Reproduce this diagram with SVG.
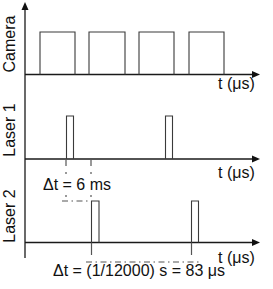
<svg xmlns="http://www.w3.org/2000/svg" width="273" height="289" viewBox="0 0 273 289">
<style>
.ax{stroke:#1a1a1a;stroke-width:1.3;fill:none}
.pl{stroke:#3a3a3a;stroke-width:1.1;fill:none}
.dd{stroke:#555;stroke-width:1.2;fill:none;stroke-dasharray:6 3.5 1.5 3.5}
.dt{stroke:#555;stroke-width:1.2;fill:none}
.ah{fill:#111}
text{font-family:"Liberation Sans",Arial,sans-serif;font-size:16px;fill:#111}
</style>
<rect width="273" height="289" fill="#fff"/>
<g id="axes">
<line class="ax" x1="25" y1="8" x2="25" y2="258"/>
<polygon class="ah" points="25,2 21.5,10 28.5,10"/>
<line class="ax" x1="25" y1="74.5" x2="253" y2="74.5"/>
<polygon class="ah" points="260,74.5 252,71 252,78"/>
<line class="ax" x1="25" y1="159" x2="253" y2="159"/>
<polygon class="ah" points="260,159 252,155.5 252,162.5"/>
<line class="ax" x1="25" y1="242.5" x2="253" y2="242.5"/>
<polygon class="ah" points="260,242.5 252,239 252,246"/>
</g>
<g id="camera">
<text transform="translate(15,44) rotate(-90)" text-anchor="middle">Camera</text>
<polyline class="pl" points="40,74.5 40,32 75,32 75,74.5"/>
<polyline class="pl" points="89,74.5 89,32 125,32 125,74.5"/>
<polyline class="pl" points="139,74.5 139,32 174,32 174,74.5"/>
<polyline class="pl" points="189,74.5 189,32 224,32 224,74.5"/>
<text x="218" y="89">t (μs)</text>
</g>
<g id="laser1">
<text transform="translate(15,130) rotate(-90)" text-anchor="middle">Laser 1</text>
<polyline class="pl" points="66.5,159 66.5,116 73.5,116 73.5,159"/>
<polyline class="pl" points="165.5,159 165.5,116 172.5,116 172.5,159"/>
<text x="218" y="178">t (μs)</text>
</g>
<g id="laser2">
<text transform="translate(15,216) rotate(-90)" text-anchor="middle">Laser 2</text>
<polyline class="pl" points="91.5,242.5 91.5,201 99,201 99,242.5"/>
<polyline class="pl" points="191.5,242.5 191.5,201 198.5,201 198.5,242.5"/>
<text x="218" y="263">t (μs)</text>
</g>
<g id="connectors">
<line class="dt" x1="66" y1="159" x2="66" y2="166"/>
<line class="dt" x1="91" y1="159" x2="91" y2="166"/>
<line class="dt" x1="66" y1="172" x2="66" y2="174"/>
<line class="dt" x1="91" y1="172" x2="91" y2="174"/>
<line class="dt" x1="66" y1="195" x2="66" y2="197"/>
<line class="dt" x1="91" y1="195" x2="91" y2="197"/>
<line class="dd" x1="62" y1="201" x2="91" y2="201"/>
<line class="dt" x1="91.5" y1="242.5" x2="91.5" y2="255"/>
<line class="dt" x1="191.5" y1="242.5" x2="191.5" y2="255"/>
<line class="dd" x1="86" y1="262" x2="200" y2="262"/>
</g>
<g id="labels">
<text x="43" y="190">Δt = 6 ms</text>
<text x="53" y="276">Δt = (1/12000) s = 83 μs</text>
</g>
</svg>
